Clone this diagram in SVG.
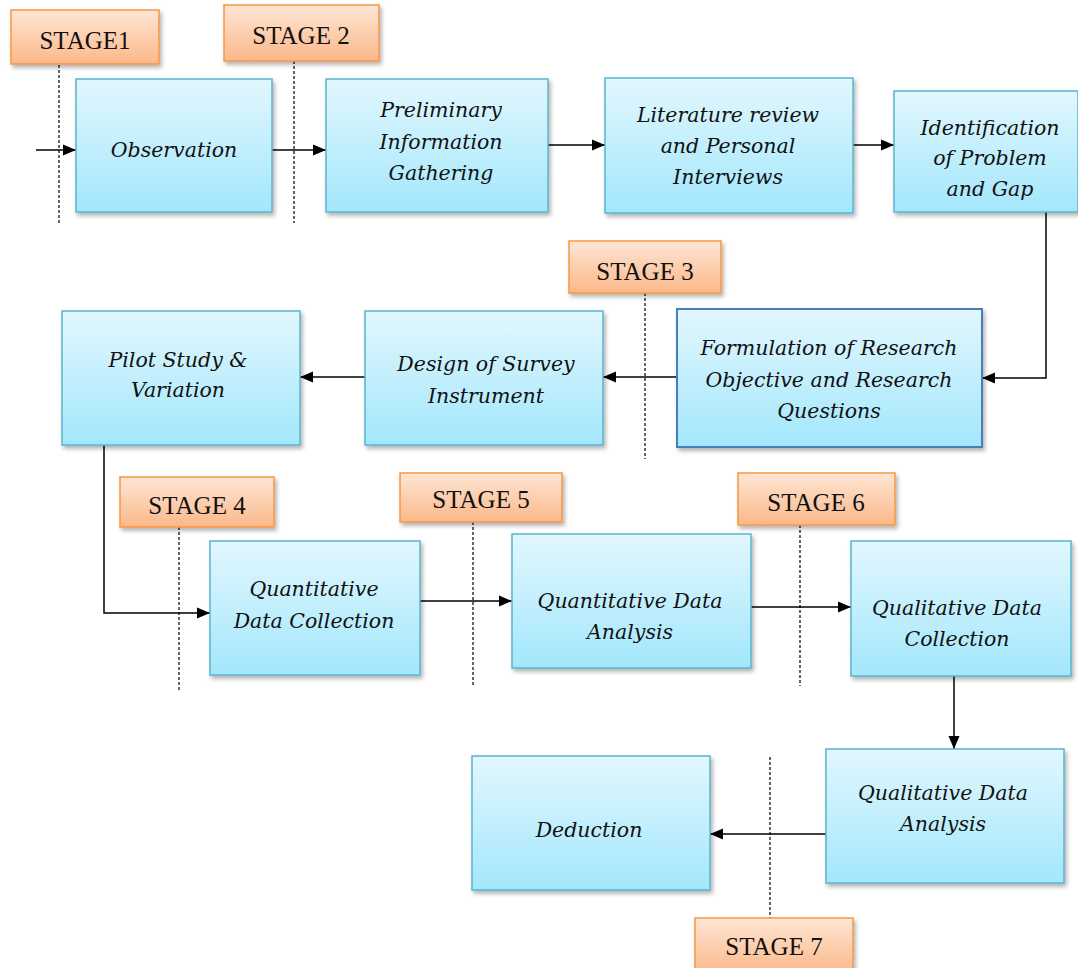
<svg xmlns="http://www.w3.org/2000/svg" width="1078" height="968" viewBox="0 0 1078 968">
  <defs>
    <linearGradient id="boxFill" x1="0" y1="0" x2="0" y2="1">
      <stop offset="0" stop-color="#e2f7fe"/>
      <stop offset="1" stop-color="#a3e7fc"/>
    </linearGradient>
    <linearGradient id="stageFill" x1="0" y1="0" x2="0" y2="1">
      <stop offset="0" stop-color="#fee6d4"/>
      <stop offset="1" stop-color="#fbb88a"/>
    </linearGradient>
    <filter id="shadow" x="-10%" y="-10%" width="125%" height="130%">
      <feDropShadow dx="2" dy="3" stdDeviation="2" flood-color="#000" flood-opacity="0.3"/>
    </filter>
    <marker id="arrow" markerUnits="userSpaceOnUse" markerWidth="14" markerHeight="14" viewBox="0 0 14 14" refX="13" refY="7" orient="auto">
      <path d="M0,1.5 L13,7 L0,12.5 z" fill="#000"/>
    </marker>
    <style>
      .box { fill: url(#boxFill); stroke: #5ab4cf; stroke-width: 1.5; filter: url(#shadow); }
      .box.dark { stroke: #4a7ebb; stroke-width: 2; }
      .stage { fill: url(#stageFill); stroke: #f79646; stroke-width: 1.5; filter: url(#shadow); }
      .label { font-family: "DejaVu Serif", "Liberation Serif", serif; font-style: italic; font-size: 20.5px; fill: #111; text-anchor: middle; }
      .stagetxt { font-family: "Liberation Serif", "Times New Roman", serif; font-size: 25px; fill: #111; text-anchor: middle; }
      .divider { stroke: #333; stroke-width: 1.5; stroke-dasharray: 3 2; fill: none; }
      .link { stroke: #000; stroke-width: 1.5; fill: none; marker-end: url(#arrow); }
    </style>
  </defs>

  <rect width="1078" height="968" fill="#fff"/>

  <!-- stage dividers -->
  <g id="dividers">
    <line class="divider" x1="59" y1="65" x2="59" y2="223"/>
    <line class="divider" x1="294" y1="61" x2="294" y2="223"/>
    <line class="divider" x1="645" y1="293" x2="645" y2="459"/>
    <line class="divider" x1="179" y1="527" x2="179" y2="690"/>
    <line class="divider" x1="473" y1="522" x2="473" y2="686"/>
    <line class="divider" x1="800" y1="525" x2="800" y2="686"/>
    <line class="divider" x1="770" y1="757" x2="770" y2="918"/>
  </g>

  <!-- stage labels -->
  <g id="stage1"><rect class="stage" x="11" y="10" width="148" height="54"/><text class="stagetxt" x="85" y="49">STAGE1</text></g>
  <g id="stage2"><rect class="stage" x="224" y="5" width="155" height="56"/><text class="stagetxt" x="301" y="44">STAGE 2</text></g>
  <g id="stage3"><rect class="stage" x="569" y="241" width="152" height="52"/><text class="stagetxt" x="645" y="280">STAGE 3</text></g>
  <g id="stage4"><rect class="stage" x="120" y="477" width="154" height="50"/><text class="stagetxt" x="197" y="514">STAGE 4</text></g>
  <g id="stage5"><rect class="stage" x="400" y="473" width="162" height="49"/><text class="stagetxt" x="481" y="508">STAGE 5</text></g>
  <g id="stage6"><rect class="stage" x="738" y="473" width="157" height="52"/><text class="stagetxt" x="816" y="511">STAGE 6</text></g>
  <g id="stage7"><rect class="stage" x="695" y="918" width="158" height="56"/><text class="stagetxt" x="774" y="955">STAGE 7</text></g>

  <!-- connectors -->
  <g id="connectors">
    <line class="link" x1="36" y1="150" x2="76" y2="150"/>
    <line class="link" x1="272" y1="150" x2="326" y2="150"/>
    <line class="link" x1="548" y1="145" x2="605" y2="145"/>
    <line class="link" x1="853" y1="145" x2="894" y2="145"/>
    <polyline class="link" points="1046,212 1046,378 982,378"/>
    <line class="link" x1="677" y1="377" x2="603" y2="377"/>
    <line class="link" x1="365" y1="377" x2="300" y2="377"/>
    <polyline class="link" points="104,445 104,613 210,613"/>
    <line class="link" x1="420" y1="601" x2="512" y2="601"/>
    <line class="link" x1="751" y1="607" x2="851" y2="607"/>
    <line class="link" x1="954" y1="676" x2="954" y2="749"/>
    <line class="link" x1="826" y1="834" x2="710" y2="834"/>
  </g>

  <!-- process steps -->
  <g id="observation">
    <rect class="box" x="76" y="79" width="196" height="133"/>
    <text class="label" x="174" y="157">Observation</text>
  </g>
  <g id="preliminary">
    <rect class="box" x="326" y="79" width="222" height="133"/>
    <text class="label" x="441" y="117">Preliminary</text>
    <text class="label" x="441" y="149">Information</text>
    <text class="label" x="441" y="180">Gathering</text>
  </g>
  <g id="literature">
    <rect class="box" x="605" y="78" width="248" height="135"/>
    <text class="label" x="728" y="122">Literature review</text>
    <text class="label" x="728" y="153">and Personal</text>
    <text class="label" x="728" y="184">Interviews</text>
  </g>
  <g id="identification">
    <rect class="box" x="894" y="91" width="184" height="121"/>
    <text class="label" x="990" y="135">Identification</text>
    <text class="label" x="990" y="165">of Problem</text>
    <text class="label" x="990" y="196">and Gap</text>
  </g>
  <g id="formulation">
    <rect class="box dark" x="677" y="309" width="305" height="138"/>
    <text class="label" x="829" y="355">Formulation of Research</text>
    <text class="label" x="829" y="387">Objective and Research</text>
    <text class="label" x="829" y="418">Questions</text>
  </g>
  <g id="design">
    <rect class="box" x="365" y="311" width="238" height="134"/>
    <text class="label" x="486" y="371">Design of Survey</text>
    <text class="label" x="486" y="403">Instrument</text>
  </g>
  <g id="pilot">
    <rect class="box" x="62" y="311" width="238" height="134"/>
    <text class="label" x="178" y="367">Pilot Study &amp;</text>
    <text class="label" x="178" y="397">Variation</text>
  </g>
  <g id="quant-collection">
    <rect class="box" x="210" y="541" width="210" height="134"/>
    <text class="label" x="314" y="596">Quantitative</text>
    <text class="label" x="314" y="628">Data Collection</text>
  </g>
  <g id="quant-analysis">
    <rect class="box" x="512" y="534" width="239" height="134"/>
    <text class="label" x="630" y="608">Quantitative Data</text>
    <text class="label" x="630" y="639">Analysis</text>
  </g>
  <g id="qual-collection">
    <rect class="box" x="851" y="541" width="220" height="135"/>
    <text class="label" x="957" y="615">Qualitative Data</text>
    <text class="label" x="957" y="646">Collection</text>
  </g>
  <g id="qual-analysis">
    <rect class="box" x="826" y="749" width="238" height="134"/>
    <text class="label" x="943" y="800">Qualitative Data</text>
    <text class="label" x="943" y="831">Analysis</text>
  </g>
  <g id="deduction">
    <rect class="box" x="472" y="756" width="238" height="134"/>
    <text class="label" x="589" y="837">Deduction</text>
  </g>
</svg>
